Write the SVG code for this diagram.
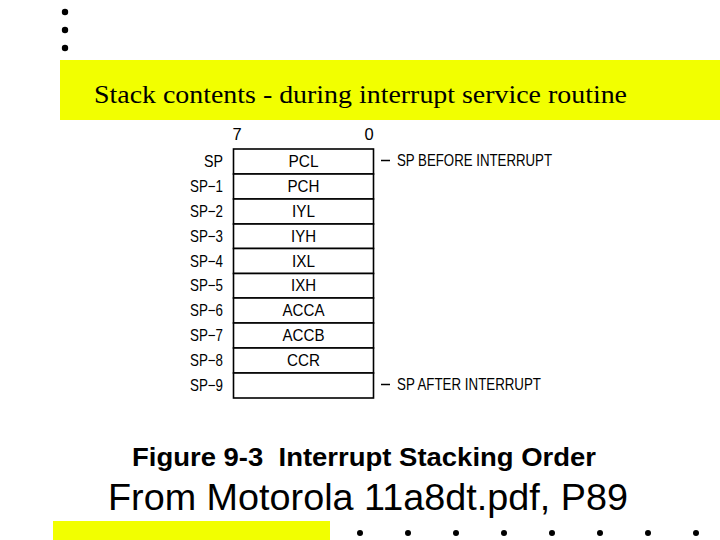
<svg xmlns="http://www.w3.org/2000/svg" width="720" height="540" viewBox="0 0 720 540">
<style>
.lbl{font-family:"Liberation Sans",Arial,sans-serif;font-size:16.5px;fill:#000}
.r{text-anchor:end}
.c{text-anchor:middle}
.cell{fill:#fff;stroke:#000;stroke-width:1.6}
.dot{fill:#000}
</style>
<rect width="720" height="540" fill="#fff"/>
<g id="bullets">
<circle class="dot" cx="65" cy="12" r="3.2"/>
<circle class="dot" cx="65" cy="30" r="3.2"/>
<circle class="dot" cx="65" cy="48" r="3.2"/>
</g>
<g id="title">
<rect x="60" y="60" width="660" height="60" fill="#f2ff00"/>
<text x="94" y="103" font-family="Liberation Serif,'Times New Roman',serif" font-size="26" textLength="533" lengthAdjust="spacingAndGlyphs">Stack contents - during interrupt service routine</text>
</g>
<g id="bitlabels">
<text class="lbl" x="237" y="140" text-anchor="middle">7</text>
<text class="lbl" x="369" y="140" text-anchor="middle">0</text>
</g>
<g id="stack">
<rect class="cell" x="233.5" y="149" width="140" height="25"/>
<rect class="cell" x="233.5" y="174" width="140" height="25"/>
<rect class="cell" x="233.5" y="199" width="140" height="25"/>
<rect class="cell" x="233.5" y="224" width="140" height="24.5"/>
<rect class="cell" x="233.5" y="248.5" width="140" height="25"/>
<rect class="cell" x="233.5" y="273.5" width="140" height="24.5"/>
<rect class="cell" x="233.5" y="298" width="140" height="25"/>
<rect class="cell" x="233.5" y="323" width="140" height="25"/>
<rect class="cell" x="233.5" y="348" width="140" height="25"/>
<rect class="cell" x="233.5" y="373" width="140" height="25"/>
<g class="lbl c">
<text x="303.5" y="167" textLength="30" lengthAdjust="spacingAndGlyphs">PCL</text>
<text x="303.5" y="192" textLength="32" lengthAdjust="spacingAndGlyphs">PCH</text>
<text x="303.5" y="217" textLength="23" lengthAdjust="spacingAndGlyphs">IYL</text>
<text x="303.5" y="242" textLength="25" lengthAdjust="spacingAndGlyphs">IYH</text>
<text x="303.5" y="266.5" textLength="23" lengthAdjust="spacingAndGlyphs">IXL</text>
<text x="303.5" y="291" textLength="25" lengthAdjust="spacingAndGlyphs">IXH</text>
<text x="303.5" y="316" textLength="42" lengthAdjust="spacingAndGlyphs">ACCA</text>
<text x="303.5" y="341" textLength="42" lengthAdjust="spacingAndGlyphs">ACCB</text>
<text x="303.5" y="366" textLength="33" lengthAdjust="spacingAndGlyphs">CCR</text>
</g>
</g>
<g id="addresses" class="lbl r">
<text x="223" y="167" textLength="19" lengthAdjust="spacingAndGlyphs">SP</text>
<text x="223" y="192" textLength="33" lengthAdjust="spacingAndGlyphs">SP−1</text>
<text x="223" y="217" textLength="33" lengthAdjust="spacingAndGlyphs">SP−2</text>
<text x="223" y="242" textLength="33" lengthAdjust="spacingAndGlyphs">SP−3</text>
<text x="223" y="266.5" textLength="33" lengthAdjust="spacingAndGlyphs">SP−4</text>
<text x="223" y="291" textLength="33" lengthAdjust="spacingAndGlyphs">SP−5</text>
<text x="223" y="316" textLength="33" lengthAdjust="spacingAndGlyphs">SP−6</text>
<text x="223" y="341" textLength="33" lengthAdjust="spacingAndGlyphs">SP−7</text>
<text x="223" y="366" textLength="33" lengthAdjust="spacingAndGlyphs">SP−8</text>
<text x="223" y="391" textLength="33" lengthAdjust="spacingAndGlyphs">SP−9</text>
</g>
<g id="pointers">
<line x1="381" y1="160.5" x2="390" y2="160.5" stroke="#000" stroke-width="1.5"/>
<text class="lbl" x="397" y="166" textLength="155" lengthAdjust="spacingAndGlyphs">SP BEFORE INTERRUPT</text>
<line x1="381" y1="384.5" x2="390" y2="384.5" stroke="#000" stroke-width="1.5"/>
<text class="lbl" x="397" y="390" textLength="144" lengthAdjust="spacingAndGlyphs">SP AFTER INTERRUPT</text>
</g>
<g id="caption">
<text x="132" y="466" font-family="Liberation Sans,Arial,sans-serif" font-size="26.5" font-weight="bold" textLength="464" lengthAdjust="spacingAndGlyphs" xml:space="preserve">Figure 9-3  Interrupt Stacking Order</text>
<text x="108" y="510" font-family="Liberation Sans,Arial,sans-serif" font-size="36" textLength="520" lengthAdjust="spacingAndGlyphs">From Motorola 11a8dt.pdf, P89</text>
</g>
<g id="footer">
<rect x="53" y="521" width="277" height="19" fill="#f2ff00"/>
<circle class="dot" cx="360" cy="533" r="3"/>
<circle class="dot" cx="408" cy="533" r="3"/>
<circle class="dot" cx="456" cy="533" r="3"/>
<circle class="dot" cx="504" cy="533" r="3"/>
<circle class="dot" cx="552" cy="533" r="3"/>
<circle class="dot" cx="600" cy="533" r="3"/>
<circle class="dot" cx="648" cy="533" r="3"/>
<circle class="dot" cx="696" cy="533" r="3"/>
</g>
</svg>
